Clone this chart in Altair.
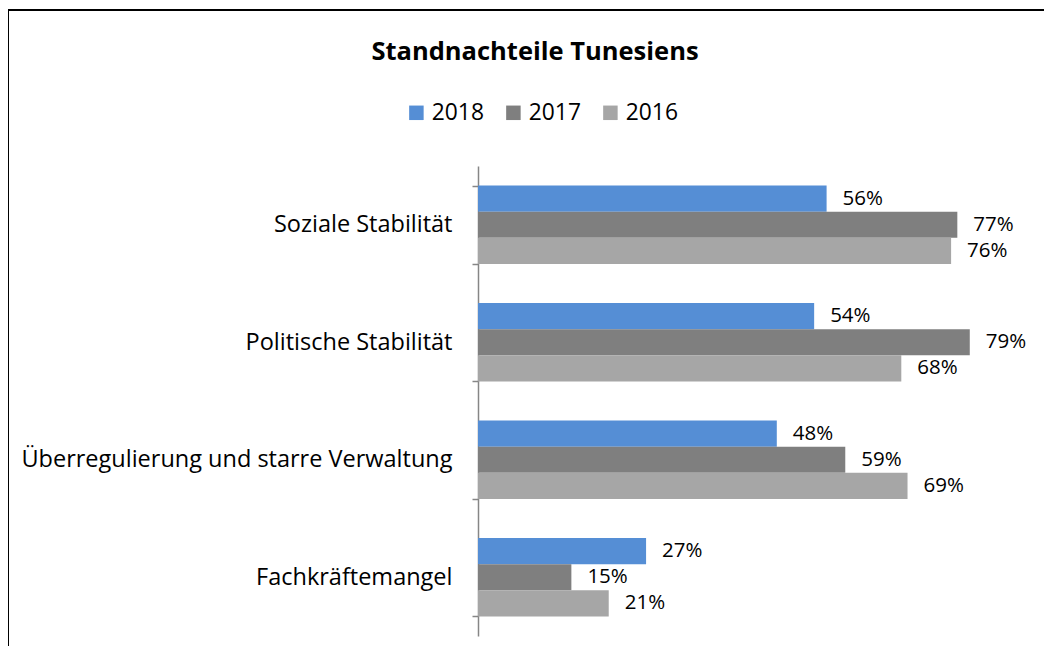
import altair as alt
import pandas as pd

categories = ["Soziale Stabilität", "Politische Stabilität",
              "Überregulierung und starre Verwaltung", "Fachkräftemangel"]
years = ["2018", "2017", "2016"]
v2018 = [0.56, 0.54, 0.48, 0.27]
v2017 = [0.77, 0.79, 0.59, 0.15]
v2016 = [0.76, 0.68, 0.69, 0.21]
colors = ["#558ED5", "#7F7F7F", "#A6A6A6"]

rows = []
for yr, vals in zip(years, [v2018, v2017, v2016]):
    for c, v in zip(categories, vals):
        rows.append({"Kategorie": c, "Jahr": yr, "Wert": v})
df = pd.DataFrame(rows)

FONT = "Open Sans"

base = alt.Chart(df).encode(
    y=alt.Y("Kategorie:N", sort=categories, title=None,
            scale=alt.Scale(paddingInner=0.333, paddingOuter=0.1667),
            axis=alt.Axis(tickBand="extent", domainColor="#868686", tickColor="#868686",
                          domainWidth=1.5, tickWidth=1.5, tickSize=6,
                          labelFontSize=23.5, labelFont=FONT, labelColor="#000000",
                          labelPadding=20, labelLimit=600)),
    yOffset=alt.YOffset("Jahr:N", sort=years),
    x=alt.X("Wert:Q", scale=alt.Scale(domain=[0, 0.8], nice=False), axis=None),
)

bars = base.mark_bar().encode(
    color=alt.Color("Jahr:N", sort=years,
                    scale=alt.Scale(domain=years, range=colors),
                    legend=alt.Legend(title=None, orient="none", direction="horizontal",
                                      legendX=-73, legendY=-65, symbolType="square",
                                      symbolSize=210, symbolStrokeWidth=0,
                                      labelFontSize=22.8, labelFont=FONT, labelColor="#000000",
                                      labelOffset=4, columnPadding=18))
)

labels = base.mark_text(align="left", baseline="middle", dx=16, fontSize=20.5,
                        font=FONT, color="#000000").encode(
    text=alt.Text("Wert:Q", format=".0%")
)

frame_df = pd.DataFrame({"k": [0]})
top_border = alt.Chart(frame_df).mark_rule(color="#000000", strokeWidth=2).encode(
    x=alt.value(-471), x2=alt.value(566), y=alt.value(-156))
left_border = alt.Chart(frame_df).mark_rule(color="#000000", strokeWidth=2).encode(
    x=alt.value(-470), y=alt.value(-157), y2=alt.value(520))

chart = alt.layer(bars, labels, top_border, left_border).properties(
    width=498, height=470,
    title=alt.TitleParams("Standnachteile Tunesiens", fontSize=25.5, font=FONT,
                          fontWeight="bold", color="#000000", anchor="middle",
                          dx=-192, dy=61),
    autosize=alt.AutoSizeParams(type="none"),
    padding={"left": 470, "top": 158, "right": 70, "bottom": 10},
).configure_view(stroke=None)

chart.save("out.html", embed_options={"renderer": "svg", "actions": False})
